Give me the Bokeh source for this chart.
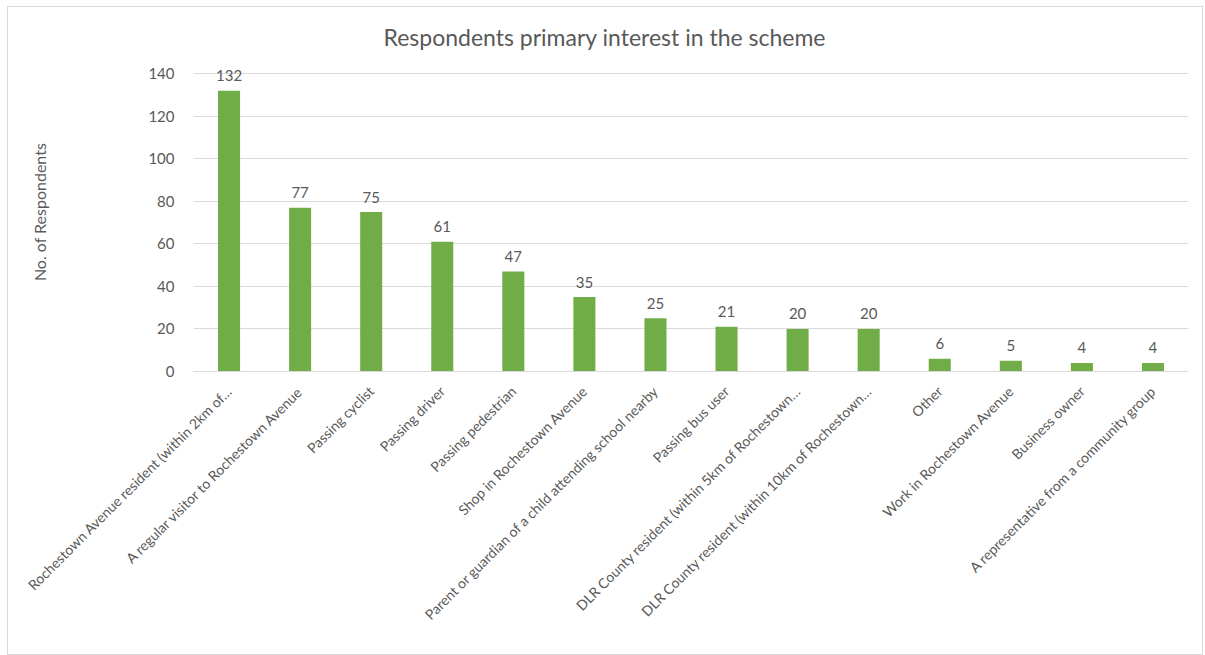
import math
from bokeh.plotting import figure
from bokeh.models import ColumnDataSource, LabelSet
from bokeh.core.properties import value
from bokeh.embed import file_html
from bokeh.resources import INLINE

categories = [
    "Rochestown Avenue resident (within 2km of…",
    "A regular visitor to Rochestown Avenue",
    "Passing cyclist",
    "Passing driver",
    "Passing pedestrian",
    "Shop in Rochestown Avenue",
    "Parent or guardian of a child attending school nearby",
    "Passing bus user",
    "DLR County resident (within 5km of Rochestown…",
    "DLR County resident (within 10km of Rochestown…",
    "Other",
    "Work in Rochestown Avenue",
    "Business owner",
    "A representative from a community group",
]
values = [132, 77, 75, 61, 47, 35, 25, 21, 20, 20, 6, 5, 4, 4]
y_ticks = [0, 20, 40, 60, 80, 100, 120, 140]

FONT = "Lato"
TXT = "#595959"

src = ColumnDataSource(dict(cat=categories, val=values, lab=[str(v) for v in values]))

p = figure(
    x_range=categories, y_range=(0, 150),
    width=1196, height=649,
    output_backend="svg", toolbar_location=None,
    min_border_left=185, min_border_right=16, min_border_top=45, min_border_bottom=285,
)
p.margin = (6, 0, 0, 7)
p.styles = {"border": "1px solid #D9D9D9"}

p.vbar(x="cat", top="val", width=0.31, source=src, color="#70AD47", line_color=None)

labels = LabelSet(x="cat", y="val", text="lab", source=src, text_align="center",
                  text_baseline="middle", y_offset=15, text_font_size="15px",
                  text_color=TXT, text_font=value(FONT))
p.add_layout(labels)

p.title.text = "Respondents primary interest in the scheme"
p.title.align = "left"
p.title.offset = 190
p.title.standoff = 4
p.title.text_font = FONT
p.title.text_font_size = "23px"
p.title.text_font_style = "normal"
p.title.text_color = TXT

p.outline_line_color = None
p.xgrid.grid_line_color = None
p.ygrid.grid_line_color = "#D9D9D9"
p.yaxis.ticker = y_ticks
p.yaxis.axis_line_color = None
p.yaxis.major_tick_line_color = None
p.yaxis.minor_tick_line_color = None
p.yaxis.major_label_text_font = FONT
p.yaxis.major_label_text_font_size = "15px"
p.yaxis.major_label_text_color = TXT
p.yaxis.major_label_standoff = 13
p.yaxis.axis_label = "No. of Respondents"
p.yaxis.axis_label_text_font = FONT
p.yaxis.axis_label_text_font_size = "16px"
p.yaxis.axis_label_text_font_style = "normal"
p.yaxis.axis_label_text_color = TXT
p.yaxis.axis_label_standoff = 96

p.xaxis.axis_line_color = "#D9D9D9"
p.xaxis.major_tick_line_color = None
p.xaxis.minor_tick_line_color = None
p.xaxis.major_label_orientation = math.pi / 4
p.xaxis.major_label_text_font = FONT
p.xaxis.major_label_text_font_size = "14px"
p.xaxis.major_label_text_color = TXT
p.xaxis.major_label_standoff = 11

p.background_fill_color = "white"
p.border_fill_color = "white"

open("out.html", "w").write(file_html(p, INLINE))
